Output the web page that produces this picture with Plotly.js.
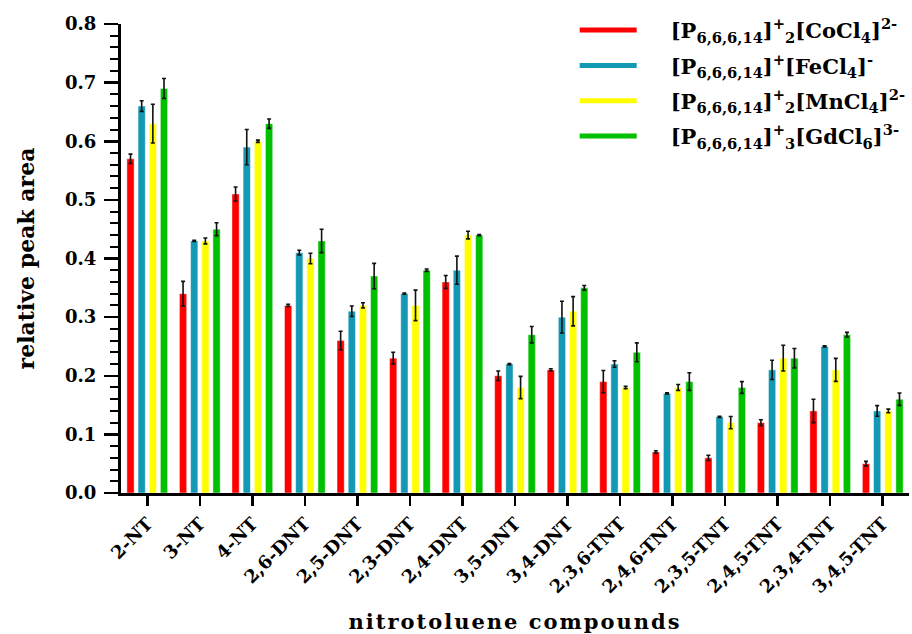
<!DOCTYPE html>
<html>
<head>
<meta charset="utf-8">
<script src="https://cdn.plot.ly/plotly-3.0.1.min.js"></script>
<style>
  html, body { margin: 0; padding: 0; background: #fff; }
  #chart { width: 912px; height: 634px; }
  .xtitle { letter-spacing: 2px; }
  .legendlines path { stroke-dasharray: 57 300; }
</style>
</head>
<body>
<div id="chart"></div>
<script>
const categories = ['2-NT','3-NT','4-NT','2,6-DNT','2,5-DNT','2,3-DNT','2,4-DNT','3,5-DNT','3,4-DNT','2,3,6-TNT','2,4,6-TNT','2,3,5-TNT','2,4,5-TNT','2,3,4-TNT','3,4,5-TNT'];

const seriesNames = [
  '[P<sub>6,6,6,14</sub>]<sup>+</sup><sub>2</sub>[CoCl<sub>4</sub>]<sup>2-</sup>',
  '[P<sub>6,6,6,14</sub>]<sup>+</sup>[FeCl<sub>4</sub>]<sup>-</sup>',
  '[P<sub>6,6,6,14</sub>]<sup>+</sup><sub>2</sub>[MnCl<sub>4</sub>]<sup>2-</sup>',
  '[P<sub>6,6,6,14</sub>]<sup>+</sup><sub>3</sub>[GdCl<sub>6</sub>]<sup>3-</sup>'
];

const coValues = [0.57,0.34,0.51,0.32,0.26,0.23,0.36,0.20,0.21,0.19,0.07,0.06,0.12,0.14,0.05];
const coErrors = [0.008,0.021,0.012,0.002,0.016,0.010,0.011,0.008,0.002,0.019,0.002,0.0045,0.005,0.020,0.004];
const feValues = [0.66,0.43,0.59,0.41,0.31,0.34,0.38,0.22,0.30,0.22,0.17,0.13,0.21,0.25,0.14];
const feErrors = [0.009,0.001,0.030,0.004,0.009,0.001,0.024,0.001,0.027,0.0055,0.001,0.001,0.0165,0.001,0.009];
const mnValues = [0.63,0.43,0.60,0.40,0.32,0.32,0.44,0.18,0.31,0.18,0.18,0.12,0.23,0.21,0.14];
const mnErrors = [0.033,0.005,0.002,0.009,0.0045,0.026,0.0065,0.019,0.025,0.002,0.005,0.0105,0.022,0.0196,0.003];
const gdValues = [0.69,0.45,0.63,0.43,0.37,0.38,0.44,0.27,0.35,0.24,0.19,0.18,0.23,0.27,0.16];
const gdErrors = [0.017,0.011,0.008,0.020,0.0216,0.002,0.001,0.014,0.004,0.016,0.015,0.010,0.0165,0.004,0.0105];

const colors = ['#ff0000', '#1399b4', '#ffff00', '#00c000'];
const allValues = [coValues, feValues, mnValues, gdValues];
const allErrors = [coErrors, feErrors, mnErrors, gdErrors];

const fontFamily = 'DejaVu Serif';

const traces = [];
allValues.forEach((vals, i) => {
  traces.push({
    type: 'bar',
    x: categories,
    y: vals,
    name: seriesNames[i],
    legendgroup: 'g' + i,
    showlegend: false,
    marker: { color: colors[i], line: { color: 'rgba(255,255,255,0.45)', width: 1 } },
    error_y: { type: 'data', array: allErrors[i], visible: true, color: '#111', thickness: 1.6, width: 2 }
  });
});
allValues.forEach((vals, i) => {
  traces.push({
    type: 'scatter',
    mode: 'lines',
    x: [categories[0]],
    y: [null],
    name: seriesNames[i],
    legendgroup: 'g' + i,
    showlegend: true,
    line: { color: colors[i], width: 5 },
    hoverinfo: 'skip'
  });
});

const layout = {
  width: 912,
  height: 634,
  margin: { l: 121, r: 2, t: 24, b: 141 },
  paper_bgcolor: '#fff',
  plot_bgcolor: '#fff',
  barmode: 'group',
  bargap: 0.15,
  bargroupgap: 0.35,
  font: { family: fontFamily, color: '#000', weight: 'bold' },
  xaxis: {
    type: 'category',
    range: [-0.5, 14.5],
    showline: true, linecolor: '#000', linewidth: 3,
    ticks: 'outside', ticklen: 10, tickwidth: 2.5, tickcolor: '#000',
    tickangle: -45,
    tickfont: { family: fontFamily, size: 18, weight: 'bold', color: '#000' },
    showgrid: false, zeroline: false,
    title: { text: 'nitrotoluene compounds', font: { family: fontFamily, size: 21, weight: 'bold', color: '#000' }, standoff: 19 }
  },
  yaxis: {
    range: [0, 0.8],
    dtick: 0.1, tick0: 0, tickformat: '.1f',
    showline: true, linecolor: '#000', linewidth: 3,
    ticks: 'outside', ticklen: 14, tickwidth: 2.5, tickcolor: '#000',
    minor: { dtick: 0.02, ticks: 'outside', ticklen: 8, tickwidth: 2, tickcolor: '#000' },
    ticklabelstandoff: 4,
    tickfont: { family: fontFamily, size: 18, weight: 'bold', color: '#000' },
    showgrid: false, zeroline: false,
    title: { text: 'relative peak area', font: { family: fontFamily, size: 22, weight: 'bold', color: '#000' }, standoff: 25 }
  },
  legend: {
    x: 0.575, y: 1.03, xanchor: 'left', yanchor: 'top',
    bgcolor: 'rgba(0,0,0,0)',
    font: { family: fontFamily, size: 21, weight: 'bold', color: '#000' },
    itemwidth: 86,
    tracegroupgap: 5
  },
  showlegend: true
};

Plotly.newPlot('chart', traces, layout, { staticPlot: true, displayModeBar: false });
</script>
</body>
</html>
